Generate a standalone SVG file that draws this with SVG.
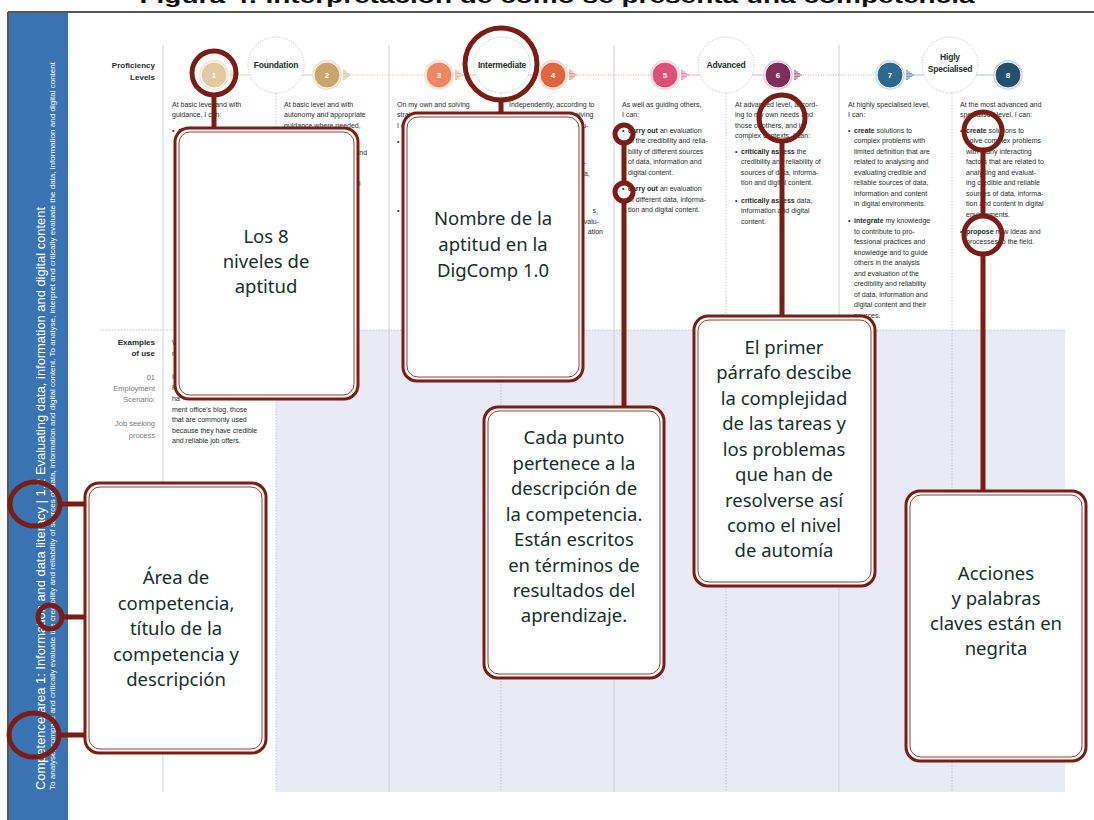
<svg xmlns="http://www.w3.org/2000/svg" width="1094" height="820" viewBox="0 0 1094 820">
<defs>
<style>
.t{font-family:"Liberation Sans",Arial,sans-serif;font-size:7px;fill:#1f2e2c}
.te{font-family:"Liberation Sans",Arial,sans-serif;font-size:7px;fill:#1f2e2c;text-anchor:end}
.b{font-weight:bold}
.lab{font-family:"Liberation Sans",Arial,sans-serif;font-size:8px;font-weight:bold;fill:#1f2e2c;text-anchor:end}
.gray{font-family:"Liberation Sans",Arial,sans-serif;font-size:7.5px;fill:#7a7a7a;text-anchor:end}
.num{font-family:"Liberation Sans",Arial,sans-serif;font-size:8px;font-weight:bold;fill:#fff;text-anchor:middle}
.lvl{font-family:"Liberation Sans",Arial,sans-serif;font-size:8.5px;font-weight:bold;fill:#1f2e2c;text-anchor:middle;letter-spacing:-0.2px}
.dc{fill:#fff;stroke:#aaa;stroke-width:0.8;stroke-dasharray:1 1.5}
.vs{stroke:#cdd0d8;stroke-width:1}
.vd{stroke:#b8b8c0;stroke-width:0.8;stroke-dasharray:1.5 1.5}
.ring{fill:none;stroke:#7b1d15;stroke-width:5}
.con{stroke:#7b1d15;stroke-width:5;fill:none}
.bo{fill:#fff;stroke:#7b1d15;stroke-width:3}
.bi{fill:none;stroke:#9b3b33;stroke-width:1}
.bt{font-family:"Noto Sans","Open Sans",sans-serif;font-size:18.5px;fill:#16302b;text-anchor:middle}
.side{font-family:"Liberation Sans",Arial,sans-serif;fill:#fff}
</style>
<g id="arr">
<circle cx="0" cy="-4.5" r="0.7"/><circle cx="0" cy="-3" r="0.7"/><circle cx="0" cy="-1.5" r="0.7"/><circle cx="0" cy="0" r="0.7"/><circle cx="0" cy="1.5" r="0.7"/><circle cx="0" cy="3" r="0.7"/><circle cx="0" cy="4.5" r="0.7"/>
<circle cx="2" cy="-3" r="0.7"/><circle cx="2" cy="-1.5" r="0.7"/><circle cx="2" cy="0" r="0.7"/><circle cx="2" cy="1.5" r="0.7"/><circle cx="2" cy="3" r="0.7"/>
<circle cx="4" cy="-1.5" r="0.7"/><circle cx="4" cy="0" r="0.7"/><circle cx="4" cy="1.5" r="0.7"/>
<circle cx="6" cy="0" r="0.7"/>
</g>
</defs>

<!-- page -->
<rect x="0" y="0" width="1094" height="820" fill="#fff"/>
<text x="557" y="2.5" font-family="Liberation Sans,Arial,sans-serif" font-size="20" font-weight="bold" fill="#111" text-anchor="middle" textLength="835" lengthAdjust="spacingAndGlyphs">Figura 4: Interpretación de cómo se presenta una competencia</text>
<rect x="8" y="12" width="1086" height="808" fill="#fff"/>
<line x1="8" y1="12" x2="1094" y2="12" stroke="#555" stroke-width="2"/>
<line x1="8" y1="12" x2="8" y2="820" stroke="#555" stroke-width="2"/>

<!-- sidebar -->
<g id="sidebar">
<rect x="9" y="13" width="59" height="807" fill="#3a73b2"/>
<text class="side" font-size="12.5" transform="translate(45,790) rotate(-90)" textLength="583" lengthAdjust="spacingAndGlyphs">Competence area 1: Information and data literacy | 1.2 Evaluating data, information and digital content</text>
<text class="side" font-size="6.8" transform="translate(55,790) rotate(-90)" textLength="728" lengthAdjust="spacingAndGlyphs">To analyse, compare and critically evaluate the credibility and reliability of sources of data, information and digital content. To analyse, interpret and critically evaluate the data, information and digital content</text>
</g>

<!-- grid -->
<g id="grid">
<rect x="276" y="330" width="789" height="462" fill="#e8eaf5"/>
<line x1="100" y1="330" x2="1065" y2="330" class="vd"/>
<line x1="163" y1="45" x2="163" y2="792" class="vs"/>
<line x1="389" y1="45" x2="389" y2="792" class="vs"/>
<line x1="614" y1="45" x2="614" y2="792" class="vs"/>
<line x1="839" y1="45" x2="839" y2="792" class="vs"/>
<line x1="276" y1="93" x2="276" y2="792" class="vd"/>
<line x1="501" y1="93" x2="501" y2="792" class="vd"/>
<line x1="726" y1="93" x2="726" y2="792" class="vd"/>
<line x1="952" y1="93" x2="952" y2="792" class="vd"/>
</g>

<!-- proficiency levels row -->
<g id="levels">
<text class="lab"><tspan x="155" y="68">Proficiency</tspan><tspan x="155" y="80">Levels</tspan></text>
<line x1="230" y1="75" x2="250" y2="75" stroke="#e8d9c2" stroke-width="1"/>
<line x1="302" y1="75" x2="312" y2="75" stroke="#dcc6a2" stroke-width="1"/>
<line x1="352" y1="75" x2="424" y2="75" stroke="#efb59b" stroke-width="1" stroke-dasharray="1 1.5"/>
<line x1="462" y1="75" x2="476" y2="75" stroke="#f3c3ae" stroke-width="1"/>
<line x1="528" y1="75" x2="538" y2="75" stroke="#eeb49f" stroke-width="1"/>
<line x1="578" y1="75" x2="650" y2="75" stroke="#eaa394" stroke-width="1" stroke-dasharray="1 1.5"/>
<line x1="688" y1="75" x2="700" y2="75" stroke="#f1b2c4" stroke-width="1"/>
<line x1="752" y1="75" x2="763" y2="75" stroke="#d2b0c3" stroke-width="1"/>
<line x1="803" y1="75" x2="875" y2="75" stroke="#c8a6b8" stroke-width="1" stroke-dasharray="1 1.5"/>
<line x1="912" y1="75" x2="924" y2="75" stroke="#aec3d4" stroke-width="1"/>
<line x1="976" y1="75" x2="993" y2="75" stroke="#aebdcb" stroke-width="1"/>

<g id="lvl-foundation"><circle cx="276" cy="65" r="28" class="dc"/><text class="lvl" x="276" y="68">Foundation</text></g>
<g id="lvl-intermediate"><circle cx="502" cy="65" r="28" class="dc"/><text class="lvl" x="502" y="68">Intermediate</text></g>
<g id="lvl-advanced"><circle cx="726" cy="65" r="28" class="dc"/><text class="lvl" x="726" y="68">Advanced</text></g>
<g id="lvl-specialised"><circle cx="950" cy="65" r="28" class="dc"/><text class="lvl"><tspan x="950" y="60">Higly</tspan><tspan x="950" y="72">Specialised</tspan></text></g>

<g id="n1"><circle cx="214" cy="75" r="15" fill="#f3e8d6"/><circle cx="214" cy="75" r="13" fill="#e3c9a1" stroke="#fff" stroke-width="1"/><text class="num" x="214" y="78">1</text><use href="#arr" x="231" y="75" fill="#e3c9a1"/></g>
<g id="n2"><circle cx="327" cy="75" r="15" fill="#efe2cd"/><circle cx="327" cy="75" r="13" fill="#c9a46b" stroke="#fff" stroke-width="1"/><text class="num" x="327" y="78">2</text><use href="#arr" x="344" y="75" fill="#c9a46b"/></g>
<g id="n3"><circle cx="439" cy="75" r="15" fill="#fbe0d5"/><circle cx="439" cy="75" r="13" fill="#ee8764" stroke="#fff" stroke-width="1"/><text class="num" x="439" y="78">3</text><use href="#arr" x="456" y="75" fill="#ee8764"/></g>
<g id="n4"><circle cx="553" cy="75" r="15" fill="#f7d6c9"/><circle cx="553" cy="75" r="13" fill="#e0663d" stroke="#fff" stroke-width="1"/><text class="num" x="553" y="78">4</text><use href="#arr" x="570" y="75" fill="#e0663d"/></g>
<g id="n5"><circle cx="665" cy="75" r="15" fill="#f8d5df"/><circle cx="665" cy="75" r="13" fill="#df5079" stroke="#fff" stroke-width="1"/><text class="num" x="665" y="78">5</text><use href="#arr" x="682" y="75" fill="#df5079"/></g>
<g id="n6"><circle cx="778" cy="75" r="15" fill="#e6d3dd"/><circle cx="778" cy="75" r="13" fill="#7f2d59" stroke="#fff" stroke-width="1"/><text class="num" x="778" y="78">6</text><use href="#arr" x="795" y="75" fill="#7f2d59"/></g>
<g id="n7"><circle cx="890" cy="75" r="15" fill="#d3e0ea"/><circle cx="890" cy="75" r="13" fill="#2d6890" stroke="#fff" stroke-width="1"/><text class="num" x="890" y="78">7</text><use href="#arr" x="907" y="75" fill="#2d6890"/></g>
<g id="n8"><circle cx="1008" cy="75" r="15" fill="#d3dce5"/><circle cx="1008" cy="75" r="13" fill="#244f6d" stroke="#fff" stroke-width="1"/><text class="num" x="1008" y="78">8</text></g>
</g>

<!-- level descriptions -->
<g id="descriptions">
<text class="t">
<tspan x="172" y="107">At basic level and with</tspan>
<tspan x="172" y="117">guidance, I can:</tspan>
<tspan x="172" y="133">•</tspan><tspan x="178" y="133"><tspan class="b">detect</tspan> the credibility and</tspan>
</text>
<text class="t">
<tspan x="284" y="107">At basic level and with</tspan>
<tspan x="284" y="117">autonomy and appropriate</tspan>
<tspan x="284" y="128">guidance where needed,</tspan>
<tspan x="284" y="138">I can:</tspan>
<tspan x="284" y="155">•</tspan><tspan x="290" y="155"><tspan class="b">detect</tspan> the credibility and</tspan>
<tspan x="290" y="165">reliability of common</tspan>
<tspan x="290" y="176">sources of data, infor-</tspan>
<tspan x="290" y="186">mation and their digital</tspan>
</text>
<text class="t">
<tspan x="397" y="107">On my own and solving</tspan>
<tspan x="397" y="117">straightforward problems,</tspan>
<tspan x="397" y="128">I can:</tspan>
<tspan x="397" y="144">•</tspan>
<tspan x="397" y="213">•</tspan>
</text>
<text class="t">
<tspan x="509" y="107">Independently, according to</tspan>
<tspan x="509" y="117">my own needs, and solving</tspan>
<tspan x="509" y="128">well-defined and non-rou-</tspan>
<tspan x="509" y="138">tine problems, I can:</tspan>
<tspan x="509" y="155">•</tspan><tspan x="515" y="155"><tspan class="b">perform</tspan> the analysis,</tspan>
<tspan x="515" y="165">comparison and evalu-</tspan>
<tspan x="515" y="176">ation of sources of data,</tspan>
<tspan x="515" y="186">information and digital</tspan>
</text>
<text class="te"><tspan x="598" y="213">s,</tspan><tspan x="599" y="224">valu-</tspan><tspan x="603" y="234">ation</tspan></text>
<text class="t">
<tspan x="622" y="107">As well as guiding others,</tspan>
<tspan x="622" y="117">I can:</tspan>
<tspan x="622" y="133">•</tspan><tspan x="628" y="133"><tspan class="b">carry out</tspan> an evaluation</tspan>
<tspan x="628" y="143">of the credibility and relia-</tspan>
<tspan x="628" y="154">bility of different sources</tspan>
<tspan x="628" y="164">of data, information and</tspan>
<tspan x="628" y="175">digital content.</tspan>
<tspan x="622" y="191">•</tspan><tspan x="628" y="191"><tspan class="b">carry out</tspan> an evaluation</tspan>
<tspan x="628" y="202">of different data, informa-</tspan>
<tspan x="628" y="212">tion and digital content.</tspan>
</text>
<text class="t">
<tspan x="735" y="107">At advanced level, accord-</tspan>
<tspan x="735" y="117">ing to my own needs and</tspan>
<tspan x="735" y="128">those of others, and in</tspan>
<tspan x="735" y="138">complex contexts, I can:</tspan>
<tspan x="735" y="154">•</tspan><tspan x="741" y="154"><tspan class="b">critically assess</tspan> the</tspan>
<tspan x="741" y="164">credibility and reliability of</tspan>
<tspan x="741" y="175">sources of data, informa-</tspan>
<tspan x="741" y="185">tion and digital content.</tspan>
<tspan x="735" y="203">•</tspan><tspan x="741" y="203"><tspan class="b">critically assess</tspan> data,</tspan>
<tspan x="741" y="213">information and digital</tspan>
<tspan x="741" y="224">content.</tspan>
</text>
<text class="t">
<tspan x="848" y="107">At highly specialised level,</tspan>
<tspan x="848" y="117">I can:</tspan>
<tspan x="848" y="133">•</tspan><tspan x="854" y="133"><tspan class="b">create</tspan> solutions to</tspan>
<tspan x="854" y="143">complex problems with</tspan>
<tspan x="854" y="154">limited definition that are</tspan>
<tspan x="854" y="164">related to analysing and</tspan>
<tspan x="854" y="175">evaluating credible and</tspan>
<tspan x="854" y="185">reliable sources of data,</tspan>
<tspan x="854" y="196">information and content</tspan>
<tspan x="854" y="206">in digital environments.</tspan>
<tspan x="848" y="223">•</tspan><tspan x="854" y="223"><tspan class="b">integrate</tspan> my knowledge</tspan>
<tspan x="854" y="234">to contribute to pro-</tspan>
<tspan x="854" y="244">fessional practices and</tspan>
<tspan x="854" y="255">knowledge and to guide</tspan>
<tspan x="854" y="265">others in the analysis</tspan>
<tspan x="854" y="276">and evaluation of the</tspan>
<tspan x="854" y="286">credibility and reliability</tspan>
<tspan x="854" y="297">of data, information and</tspan>
<tspan x="854" y="307">digital content and their</tspan>
<tspan x="854" y="318">sources.</tspan>
</text>
<text class="t">
<tspan x="960" y="107">At the most advanced and</tspan>
<tspan x="960" y="117">specialised level, I can:</tspan>
<tspan x="960" y="133">•</tspan><tspan x="966" y="133"><tspan class="b">create</tspan> solutions to</tspan>
<tspan x="966" y="143">solve complex problems</tspan>
<tspan x="966" y="154">with many interacting</tspan>
<tspan x="966" y="164">factors that are related to</tspan>
<tspan x="966" y="175">analysing and evaluat-</tspan>
<tspan x="966" y="185">ing credible and reliable</tspan>
<tspan x="966" y="196">sources of data, informa-</tspan>
<tspan x="966" y="206">tion and content in digital</tspan>
<tspan x="966" y="217">environments.</tspan>
<tspan x="960" y="234">•</tspan><tspan x="966" y="234"><tspan class="b">propose</tspan> new ideas and</tspan>
<tspan x="966" y="244">processes to the field.</tspan>
</text>
</g>

<!-- examples of use -->
<g id="examples">
<text class="lab"><tspan x="155" y="345">Examples</tspan><tspan x="155" y="356">of use</tspan></text>
<text class="gray"><tspan x="155" y="380">01</tspan><tspan x="155" y="391">Employment</tspan><tspan x="155" y="402">Scenario:</tspan><tspan x="155" y="426">Job seeking</tspan><tspan x="155" y="438">process</tspan></text>
<text class="t">
<tspan x="172" y="345">W</tspan>
<tspan x="172" y="356">m</tspan>
<tspan x="172" y="379">I</tspan>
<tspan x="172" y="390">P</tspan>
<tspan x="172" y="401">ha</tspan>
<tspan x="172" y="412">ment office’s blog, those</tspan>
<tspan x="172" y="422">that are commonly used</tspan>
<tspan x="172" y="433">because they have credible</tspan>
<tspan x="172" y="443">and reliable job offers.</tspan>
</text>
</g>

<!-- connectors -->
<g id="connectors">
<circle cx="214" cy="73" r="22" class="ring"/>
<line x1="214" y1="95" x2="214" y2="129" class="con"/>
<circle cx="501" cy="64" r="36" class="ring"/>
<line x1="501" y1="100" x2="501" y2="114" class="con"/>
<circle cx="624" cy="134" r="9" class="ring"/>
<circle cx="624" cy="192" r="9" class="ring"/>
<line x1="624" y1="143" x2="624" y2="183" class="con"/>
<line x1="624" y1="201" x2="624" y2="408" class="con"/>
<circle cx="782" cy="118" r="23" class="ring"/>
<line x1="782" y1="141" x2="782" y2="317" class="con"/>
<circle cx="983" cy="131" r="19" class="ring"/>
<circle cx="983" cy="235" r="19" class="ring"/>
<line x1="983" y1="150" x2="983" y2="216" class="con"/>
<line x1="983" y1="254" x2="983" y2="492" class="con"/>
<ellipse cx="35" cy="504" rx="25" ry="22" class="ring"/>
<circle cx="50" cy="617" r="12" class="ring"/>
<ellipse cx="34" cy="735" rx="25" ry="22" class="ring"/>
<line x1="60" y1="504" x2="86" y2="504" class="con"/>
<line x1="62" y1="617" x2="86" y2="617" class="con"/>
<line x1="59" y1="735" x2="86" y2="735" class="con"/>
</g>

<!-- callouts -->
<g id="box-niveles">
<rect x="175" y="128" width="183" height="271" rx="14" class="bo"/>
<rect x="179" y="132" width="175" height="263" rx="11" class="bi"/>
<text class="bt"><tspan x="266" y="243">Los 8</tspan><tspan x="266" y="268">niveles de</tspan><tspan x="266" y="293">aptitud</tspan></text>
</g>
<g id="box-nombre">
<rect x="403" y="113" width="180" height="268" rx="14" class="bo"/>
<rect x="407" y="117" width="172" height="260" rx="11" class="bi"/>
<text class="bt"><tspan x="493" y="225">Nombre de la</tspan><tspan x="493" y="251">aptitud en la</tspan><tspan x="493" y="277">DigComp 1.0</tspan></text>
</g>
<g id="box-punto">
<rect x="484" y="407" width="180" height="271" rx="14" class="bo"/>
<rect x="488" y="411" width="172" height="263" rx="11" class="bi"/>
<text class="bt"><tspan x="574" y="444">Cada punto</tspan><tspan x="574" y="470">pertenece a la</tspan><tspan x="574" y="495">descripción de</tspan><tspan x="574" y="521">la competencia.</tspan><tspan x="574" y="546">Están escritos</tspan><tspan x="574" y="572">en términos de</tspan><tspan x="574" y="597">resultados del</tspan><tspan x="574" y="622">aprendizaje.</tspan></text>
</g>
<g id="box-parrafo">
<rect x="694" y="316" width="181" height="270" rx="14" class="bo"/>
<rect x="698" y="320" width="173" height="262" rx="11" class="bi"/>
<text class="bt"><tspan x="784" y="354">El primer</tspan><tspan x="784" y="379">párrafo descibe</tspan><tspan x="784" y="405">la complejidad</tspan><tspan x="784" y="430">de las tareas y</tspan><tspan x="784" y="456">los problemas</tspan><tspan x="784" y="481">que han de</tspan><tspan x="784" y="507">resolverse así</tspan><tspan x="784" y="532">como el nivel</tspan><tspan x="784" y="557">de automía</tspan></text>
</g>
<g id="box-acciones">
<rect x="906" y="491" width="180" height="270" rx="14" class="bo"/>
<rect x="910" y="495" width="172" height="262" rx="11" class="bi"/>
<text class="bt"><tspan x="996" y="580">Acciones</tspan><tspan x="996" y="605">y palabras</tspan><tspan x="996" y="630">claves están en</tspan><tspan x="996" y="655">negrita</tspan></text>
</g>
<g id="box-area">
<rect x="85" y="483" width="181" height="270" rx="14" class="bo"/>
<rect x="89" y="487" width="173" height="262" rx="11" class="bi"/>
<text class="bt"><tspan x="176" y="584">Área de</tspan><tspan x="176" y="610">competencia,</tspan><tspan x="176" y="635">título de la</tspan><tspan x="176" y="661">competencia y</tspan><tspan x="176" y="686">descripción</tspan></text>
</g>
</svg>
